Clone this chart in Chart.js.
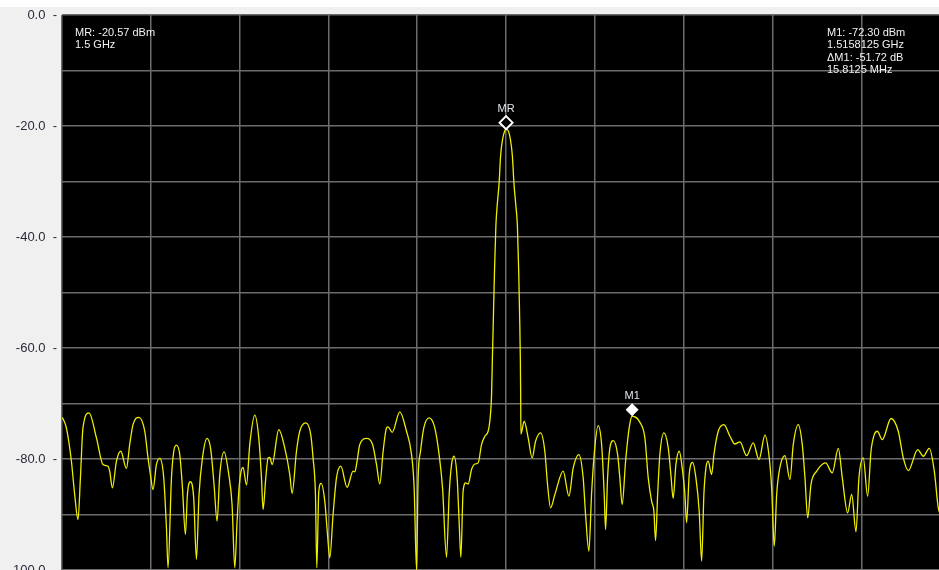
<!DOCTYPE html>
<html>
<head>
<meta charset="utf-8">
<script src="https://cdn.jsdelivr.net/npm/chart.js@4.4.1/dist/chart.umd.min.js"></script>
<style>
  html, body { margin: 0; padding: 0; background: #ffffff; }
  #wrap { position: relative; width: 939px; height: 570px; }
</style>
</head>
<body>
<div id="wrap"><canvas id="c"></canvas></div>
<script>
// ---- data (frequency in MHz, level in dBm) ----
const freqsMHz = [
  1444.35,1444.85,1445.48,1445.89,1446.31,1446.61,1446.93,1447.69,1448.62,1449.44,
  1450.07,1450.28,1450.62,1451.13,1451.67,1452.38,1452.79,1453.21,1453.96,1454.68,
  1455.09,1455.39,1455.72,1456.14,1456.56,1457.06,1457.40,1457.60,1458.03,1458.32,
  1458.65,1459.07,1459.41,1459.78,1460.03,1460.41,1460.82,1461.16,1461.49,1461.92,
  1462.49,1462.96,1463.37,1463.75,1464.09,1464.63,1465.22,1465.63,1465.97,1466.26,
  1466.51,1466.81,1467.01,1467.44,1467.85,1468.48,1468.98,1469.32,1469.52,1469.86,
  1470.15,1470.36,1470.65,1471.49,1472.24,1472.87,1473.16,1473.71,1474.12,1474.88,
  1475.50,1475.79,1476.09,1476.26,1476.51,1476.80,1477.26,1477.60,1477.89,1478.30,
  1478.73,1479.27,1480.06,1480.81,1481.03,1481.31,1481.65,1482.49,1483.25,1483.75,
  1484.16,1484.58,1485.00,1485.20,1485.71,1486.67,1487.51,1488.14,1488.47,1488.77,
  1488.97,1489.27,1489.68,1490.35,1491.06,1491.60,1492.03,1492.53,1492.86,1493.16,
  1493.48,1493.86,1494.11,1494.33,1494.61,1494.95,1495.24,1495.67,1496.08,1496.50,
  1496.92,1497.34,1497.75,1497.96,1498.18,1498.28,1498.40,1498.55,1498.72,1498.88,
  1499.13,1499.31,1499.56,1499.85,1500.00,1500.25,1500.54,1500.79,1500.98,1501.23,
  1501.42,1501.58,1501.71,1501.79,1501.83,1501.86,1502.27,1502.77,1503.27,1503.70,
  1504.33,1504.86,1505.20,1505.58,1506.12,1507.16,1507.88,1508.42,1509.13,1509.67,
  1509.97,1510.39,1510.72,1511.05,1511.55,1511.98,1512.31,1512.48,1512.73,1513.02,
  1513.44,1513.99,1514.27,1514.56,1514.99,1515.44,1515.81,1516.79,1517.41,1517.83,
  1518.25,1518.54,1518.75,1519.01,1519.29,1519.80,1520.34,1520.67,1520.96,1521.30,
  1521.72,1522.14,1522.43,1522.64,1522.97,1523.40,1523.81,1524.22,1524.53,1524.81,
  1525.07,1525.35,1525.78,1526.07,1526.61,1527.32,1528.08,1528.70,1529.33,1530.17,
  1531.00,1531.72,1532.47,1533.01,1533.31,1533.64,1533.94,1534.26,1534.98,1535.60,
  1536.02,1536.65,1537.15,1537.49,1537.83,1538.24,1538.96,1540.08,1540.91,1541.67,
  1542.17,1542.84,1543.35,1543.89,1544.26,1544.80,1545.35,1545.77,1546.18,1546.56,
  1547.19,1548.28,1549.19,1549.82,1550.45,1551.63,1552.33,1553.08,1553.71,1554.21,
  1554.50
];
const levelsDbm = [
  -72.5,-74.4,-80.4,-86.4,-90.9,-83.4,-74.4,-71.7,-76.2,-81.0,
  -81.3,-82.2,-85.2,-80.4,-78.6,-81.7,-77.4,-73.8,-72.5,-75.0,
  -79.8,-82.8,-85.5,-81.0,-79.9,-83.4,-92.4,-99.6,-83.4,-78.6,
  -77.5,-79.2,-85.2,-93.6,-86.4,-84.1,-87.0,-98.1,-86.4,-79.8,
  -76.3,-78.3,-84.6,-91.2,-82.8,-78.7,-82.8,-88.2,-99.6,-91.2,
  -85.2,-81.9,-81.5,-84.7,-77.4,-72.1,-76.2,-83.4,-89.1,-83.4,
  -79.8,-79.7,-81.0,-74.7,-78.0,-82.8,-86.2,-78.6,-75.0,-73.5,
  -75.6,-79.8,-86.4,-99.6,-85.8,-84.4,-87.6,-93.6,-97.8,-90.0,
  -83.4,-81.3,-85.1,-82.2,-82.3,-80.4,-77.4,-76.3,-77.4,-81.0,
  -84.5,-78.6,-74.4,-74.2,-75.2,-71.5,-75.0,-79.2,-85.2,-100.0,
  -83.4,-78.6,-74.4,-72.6,-74.4,-79.2,-85.2,-97.7,-86.4,-81.0,
  -79.5,-83.4,-91.2,-97.7,-85.8,-84.3,-84.5,-81.9,-80.9,-80.7,
  -77.4,-75.9,-75.0,-73.2,-68.4,-62.0,-55.0,-46.0,-38.0,-34.4,
  -30.2,-25.4,-22.4,-20.8,-20.57,-20.8,-22.4,-25.4,-30.2,-34.4,
  -38.0,-46.0,-55.0,-62.0,-68.4,-75.5,-73.2,-76.2,-79.8,-76.8,
  -75.3,-78.6,-84.6,-88.8,-86.4,-82.2,-86.7,-81.6,-79.2,-83.4,
  -90.0,-96.6,-86.4,-79.2,-74.0,-77.4,-86.4,-92.7,-83.4,-78.0,
  -76.7,-79.2,-83.4,-88.2,-80.4,-74.4,-72.3,-73.4,-76.2,-83.4,
  -87.6,-89.4,-94.7,-86.4,-79.2,-75.3,-78.0,-82.8,-87.1,-81.0,
  -78.6,-82.2,-86.4,-91.5,-82.8,-80.6,-83.4,-89.4,-98.4,-86.4,
  -81.6,-80.4,-82.8,-79.2,-75.0,-73.8,-75.9,-77.3,-76.9,-79.4,
  -77.1,-80.1,-75.7,-79.8,-85.2,-95.7,-86.4,-82.2,-79.4,-83.7,
  -77.4,-73.8,-77.4,-83.4,-90.6,-84.6,-82.2,-80.7,-82.5,-78.1,
  -83.4,-89.7,-86.4,-93.1,-83.4,-79.8,-86.7,-78.6,-75.6,-75.0,
  -76.5,-72.7,-75.0,-79.8,-82.1,-78.3,-79.5,-78.1,-82.2,-88.8,
  -90.0
];
const markerNames = ['MR', 'M1'];
const markerFreqsMHz = [1500.0, 1515.8125];
const markerLevelsDbm = [-20.57, -72.30];
const readoutLeft = ['MR: -20.57 dBm', '1.5 GHz'];
const readoutRight = ['M1: -72.30 dBm', '1.5158125 GHz', '\u0394M1: -51.72 dB', '15.8125 MHz'];
const yMin = -100, yMax = 0, yStep = 10, yLabelEvery = 20;
const xMin = 1444.3, xMax = 1554.3, xCenter = 1500, xDivision = 11.15;

const points = freqsMHz.map((f, i) => ({ x: f, y: levelsDbm[i] }));

const bgPlugin = {
  id: 'bg',
  beforeDraw(chart) {
    const { ctx, chartArea: a, width, height } = chart;
    ctx.save();
    ctx.fillStyle = '#f0f0f0';
    ctx.fillRect(0, 0, width, height);
    ctx.fillStyle = '#ffffff';
    ctx.fillRect(0, 0, width, 7);
    ctx.fillStyle = '#000000';
    ctx.fillRect(a.left, a.top, a.right - a.left, a.bottom - a.top);
    ctx.restore();
  }
};

const markerPlugin = {
  id: 'markers',
  afterDatasetsDraw(chart) {
    const { ctx, chartArea: a } = chart;
    const xs = chart.scales.x, ys = chart.scales.y;
    ctx.save();
    const s = 6.5;
    markerNames.forEach((name, i) => {
      const px = xs.getPixelForValue(markerFreqsMHz[i]);
      const py = ys.getPixelForValue(markerLevelsDbm[i]);
      const cy = py - s;
      ctx.beginPath();
      ctx.moveTo(px, cy - s);
      ctx.lineTo(px + s, cy);
      ctx.lineTo(px, cy + s);
      ctx.lineTo(px - s, cy);
      ctx.closePath();
      if (i === 0) {
        ctx.fillStyle = '#000000';
        ctx.fill();
        ctx.strokeStyle = '#ffffff';
        ctx.lineWidth = 2;
        ctx.stroke();
      } else {
        ctx.fillStyle = '#ffffff';
        ctx.fill();
      }
      ctx.font = '11px "Liberation Sans", Arial, sans-serif';
      ctx.fillStyle = '#dfe6ee';
      ctx.textAlign = 'center';
      ctx.textBaseline = 'middle';
      ctx.fillText(name, px, py - 20);
    });
    ctx.font = '11px "Liberation Sans", Arial, sans-serif';
    ctx.fillStyle = '#f2f2f2';
    ctx.textAlign = 'left';
    ctx.textBaseline = 'middle';
    readoutLeft.forEach((t, i) => ctx.fillText(t, a.left + 13, a.top + 18 + i * 12.3));
    readoutRight.forEach((t, i) => ctx.fillText(t, a.right - 112, a.top + 18 + i * 12.3));
    ctx.restore();
  }
};

new Chart(document.getElementById('c'), {
  type: 'line',
  data: {
    datasets: [{
      data: points,
      borderColor: 'rgb(238,238,0)',
      borderWidth: 1.3,
      pointRadius: 0,
      cubicInterpolationMode: 'monotone',
      fill: false
    }]
  },
  options: {
    responsive: true,
    maintainAspectRatio: false,
    animation: false,
    layout: { padding: { top: 15, right: 0, bottom: 0, left: 0 } },
    plugins: { legend: { display: false }, tooltip: { enabled: false } },
    scales: {
      x: {
        type: 'linear',
        min: xMin,
        max: xMax,
        afterBuildTicks(scale) {
          const t = [];
          for (let k = -5; k <= 4; k++) t.push({ value: xCenter + k * xDivision });
          scale.ticks = t;
        },
        afterFit(scale) { scale.height = 0; },
        ticks: { display: false },
        border: { display: false },
        grid: { color: '#6c6c6c', lineWidth: 1.5, drawTicks: false }
      },
      y: {
        type: 'linear',
        min: yMin,
        max: yMax,
        afterFit(scale) { scale.width = 62; scale.paddingTop = 0; scale.paddingBottom = 0; },
        ticks: {
          stepSize: yStep,
          padding: 5,
          color: '#2a2a3a',
          font: { family: '"Liberation Sans", Arial, sans-serif', size: 13 },
          callback: (v) => (v % yLabelEvery === 0 ? v.toFixed(1) + '  -' : '')
        },
        border: { display: false },
        grid: { color: '#6c6c6c', lineWidth: 1.5, drawTicks: false }
      }
    }
  },
  plugins: [bgPlugin, markerPlugin]
});
</script>
</body>
</html>
